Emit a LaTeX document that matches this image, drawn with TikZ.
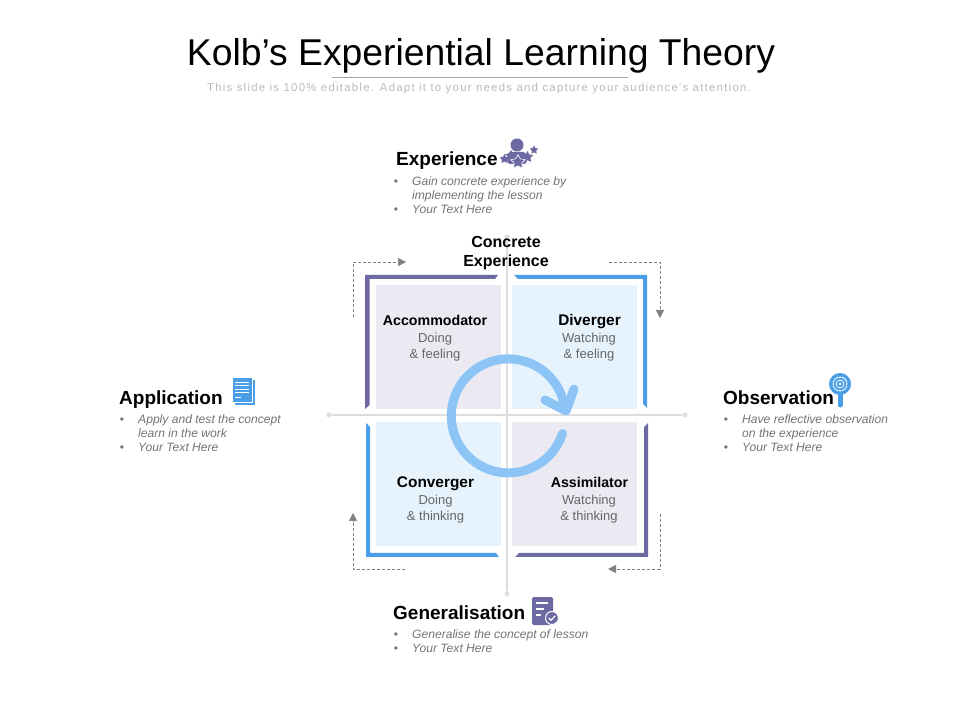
\documentclass[tikz,border=0pt]{standalone}
\usepackage{fontspec}
\setmainfont{Liberation Sans}
\newfontfamily\subfont[LetterSpace=11]{Liberation Sans}
\usetikzlibrary{arrows.meta,shapes.geometric}
\definecolor{MyPurple}{HTML}{6C69A3}
\definecolor{MyBlue}{HTML}{4A9EE8}
\definecolor{MyLilac}{HTML}{EBEAF2}
\definecolor{MyIce}{HTML}{E6F2FC}
\definecolor{MySky}{HTML}{8CC4F5}
\definecolor{MyGrey}{HTML}{DDDDDD}
\newcommand{\bul}{\llap{\normalfont\textbullet\hspace{14pt}}}
\tikzset{
  headlabel/.style={anchor=base west,inner sep=0pt,font=\bfseries\fontsize{19}{21}\selectfont},
  listtext/.style={anchor=north west,inner sep=0pt,align=left,text=black!55,font=\itshape\fontsize{12.1}{14}\selectfont},
  quadname/.style={anchor=base,inner sep=0pt,font=\bfseries\fontsize{14.2}{16}\selectfont},
  quadtext/.style={inner sep=0pt,align=center,text=black!60,font=\fontsize{13}{16}\selectfont},
  axisdot/.style={circle,fill=MyGrey,inner sep=0pt,minimum size=5pt},
  dashline/.style={densely dashed,draw=black!50,line width=0.5pt,-{Triangle[length=8pt,width=8pt]}},
  smallstar/.style={star,star points=5,star point ratio=1.9,fill=MyPurple,inner sep=0pt,minimum size=#1},
}
\begin{document}
\begin{tikzpicture}[x=1pt,y=1pt]
  \useasboundingbox (0,0) rectangle (960,720);

  % title
  \node[inner sep=0pt,font=\fontsize{37.3}{40}\selectfont] (title) at (481,664) {Kolb’s Experiential Learning Theory};
  \coordinate (ruleleft) at (332,643);
  \coordinate (ruleright) at (628,643);
  \draw[black!35,line width=0.5pt] (ruleleft)--(ruleright);
  \node[inner sep=0pt,text=black!27,font=\subfont\fontsize{11.4}{14}\selectfont] (subtitle) at (479,631) {This slide is 100\% editable. Adapt it to your needs and capture your audience's attention.};

  % axes
  \node[axisdot] (axtop) at (507,483) {};
  \node[axisdot] (axbottom) at (507,126) {};
  \node[axisdot] (axleft) at (329,305) {};
  \node[axisdot] (axright) at (685,305) {};
  \draw[MyGrey,line width=1.2pt] (axtop)--(axbottom);
  \draw[MyGrey,line width=1.2pt] (axleft)--(axright);

  % quadrants
  \fill[MyLilac] (376,311) rectangle (501,435);
  \fill[MyIce] (512,311) rectangle (637,435);
  \fill[MyIce] (376,174) rectangle (501,298);
  \fill[MyLilac] (512,174) rectangle (637,298);

  % corner bars
  \fill[MyPurple] (365,445)--(498,445)--(495,441)--(369.5,441)--(369.5,315)--(365,311)--cycle;
  \fill[MyBlue] (647,445)--(514,445)--(518,441)--(643,441)--(643,316)--(647,312)--cycle;
  \fill[MyBlue] (366,297)--(366,163)--(499,163)--(496,167)--(370,167)--(370,293)--cycle;
  \fill[MyPurple] (648,297)--(648,163)--(515,163)--(519,167)--(644,167)--(644,293)--cycle;

  % dashed arrows
  \coordinate (tlstart) at (353,403);
  \coordinate (tlend) at (406,458);
  \coordinate (trstart) at (609,458);
  \coordinate (trend) at (660,402);
  \coordinate (brstart) at (660,206);
  \coordinate (brend) at (608,151);
  \coordinate (blstart) at (405,151);
  \coordinate (blend) at (353,207);
  \draw[dashline] (tlstart)|-(tlend);
  \draw[dashline] (trstart)-|(trend);
  \draw[dashline] (brstart)|-(brend);
  \draw[dashline] (blstart)-|(blend);

  % cycle arrow
  \draw[MySky,line width=9pt,line cap=round] (562.5,286.5) arc (-18:-352:57);
  \draw[MySky,line width=9pt,line cap=round,line join=round] (545,320)--(566,309)--(574,331);

  % quadrant texts
  \node[inner sep=0pt,align=center,font=\bfseries\fontsize{16}{19}\selectfont] (concrete) at (506,466.5) {Concrete\\Experience};
  \node[quadname] (accom) at (435,394) {Accommodator};
  \node[quadtext] (accomtext) at (435,373) {Doing\\\& feeling};
  \node[quadname,font=\bfseries\fontsize{15.4}{16}\selectfont] (diverg) at (589.5,394) {Diverger};
  \node[quadtext] (divergtext) at (589,373) {Watching\\\& feeling};
  \node[quadname,font=\bfseries\fontsize{15.4}{16}\selectfont] (converg) at (435.5,232) {Converger};
  \node[quadtext] (convergtext) at (435.5,211) {Doing\\\& thinking};
  \node[quadname] (assim) at (589.5,232) {Assimilator};
  \node[quadtext] (assimtext) at (589,211) {Watching\\\& thinking};

  % experience
  \node[headlabel] (exper) at (396,554) {Experience};
  \node[listtext] (experlist) at (412,543) {\bul Gain concrete experience by\\implementing the lesson\\\bul Your Text Here};
  \fill[MyPurple] (517,575) circle (6.5);
  \fill[MyPurple,rounded corners=3pt] (507,556)--(508,568)--(526,568)--(527,556)--cycle;
  \node[smallstar=10pt] (staraa) at (504.5,561) {};
  \node[smallstar=12pt] (starbb) at (511,564) {};
  \node[smallstar=12pt] (starcc) at (527.5,563) {};
  \node[smallstar=9pt] (stardd) at (534,570) {};
  \node[smallstar=15pt,draw=white,line width=0.6pt] (staree) at (518,558) {};

  % application
  \node[headlabel] (applic) at (119,315) {Application};
  \node[listtext] (appliclist) at (138,305) {\bul Apply and test the concept\\learn in the work\\\bul Your Text Here};
  \fill[MyBlue] (235,315) rectangle (255,340);
  \fill[MyBlue,draw=white,line width=0.6pt] (232,318) rectangle (252,343);
  \foreach \ly in {338,334.5,331,327.5} {
    \draw[white,line width=0.9pt] (235,\ly)--(249,\ly);
  }
  \draw[white,line width=0.9pt] (235,322.5)--(241,322.5);

  % observation
  \node[headlabel] (observ) at (723,315) {Observation};
  \node[listtext] (observlist) at (742,305) {\bul Have reflective observation\\on the experience\\\bul Your Text Here};
  \draw[MyBlue,line width=5pt,line cap=round] (840,326)--(840,315);
  \fill[MyBlue] (840,336) circle (11);
  \draw[white,line width=0.8pt] (840,336) circle (7);
  \draw[white,line width=0.8pt] (840,336) circle (4);
  \fill[white] (840,336) circle (1.5);

  % generalisation
  \node[headlabel] (general) at (393,101) {Generalisation};
  \node[listtext] (generallist) at (412,90) {\bul Generalise the concept of lesson\\\bul Your Text Here};
  \fill[MyPurple,rounded corners=1.5pt] (532,95) rectangle (553,123);
  \draw[white,line width=1.5pt] (536,117)--(548,117);
  \draw[white,line width=1.5pt] (536,111)--(544,111);
  \draw[white,line width=1.5pt] (536,105)--(541,105);
  \fill[MyPurple,draw=white,line width=1pt] (552,102) circle (6.5);
  \draw[white,line width=1.2pt] (548.8,102)--(551,99.8)--(555.2,104.2);
\end{tikzpicture}
\end{document}
